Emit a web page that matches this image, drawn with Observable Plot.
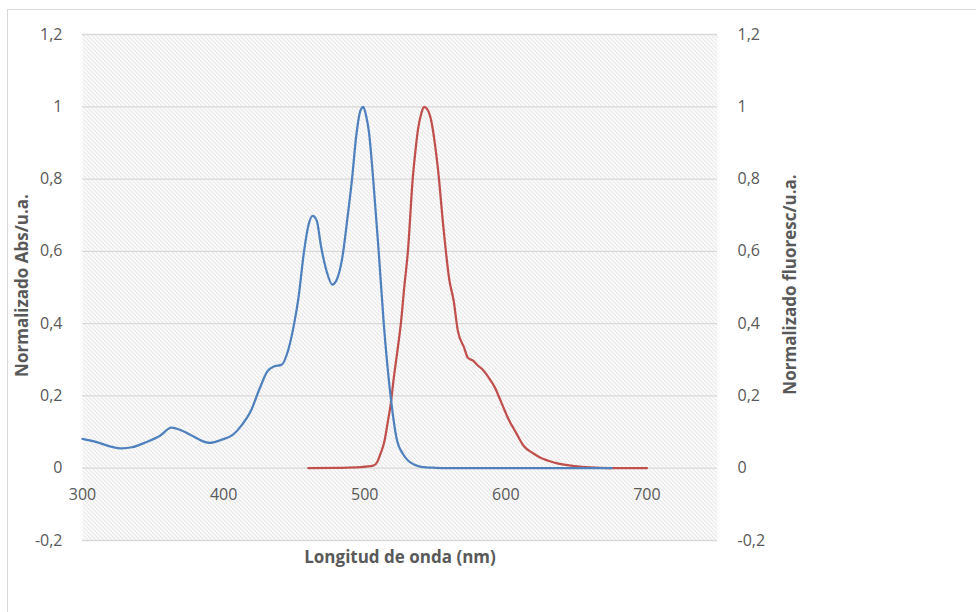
<!DOCTYPE html>
<html>
<head>
<meta charset="utf-8">
<script src="https://cdn.jsdelivr.net/npm/d3@7"></script>
<script src="https://cdn.jsdelivr.net/npm/@observablehq/plot@0.6"></script>
<style>
  html, body { margin: 0; padding: 0; background: #fff; }
  #wrap { position: relative; width: 976px; height: 612px; overflow: hidden; }
  #border { position: absolute; left: 7px; top: 9px; width: 1000px; height: 700px; border-left: 1px solid #d9d9d9; border-top: 1px solid #d9d9d9; pointer-events: none; }
</style>
</head>
<body>
<div id="wrap"><div id="border"></div></div>
<script>
// Absorbance spectrum (normalised)
const absWavelength = [300,310,320,328,335,345,355,363,371,378,385,390,398,407,413,419,425,431,436,441,446,450,453,457,460,463,466,469,473,477,480,484,488,491,494,497,499,501,503,506,510,513.5,518.5,523,527,531,535,540,550,560,600,640,675];
const absValue      = [0.081,0.072,0.060,0.055,0.058,0.072,0.090,0.112,0.103,0.089,0.075,0.070,0.078,0.094,0.120,0.156,0.215,0.268,0.282,0.286,0.330,0.400,0.470,0.600,0.670,0.698,0.685,0.615,0.545,0.508,0.520,0.580,0.700,0.800,0.920,0.990,1.000,0.975,0.930,0.800,0.594,0.400,0.194,0.075,0.040,0.020,0.010,0.004,0.001,0,0,0,0];
// Fluorescence spectrum (normalised)
const fluWavelength = [460,480,497,506,509,511,514,516,518.5,520.6,523,525.6,528,530.6,534,536,537.7,540,542,544,547,550,552,555.5,560,563,566,570.5,573,577,580,583,588,592,597,602,607,613,619,625,635,649,660,673,700];
const fluValue      = [0,0.001,0.003,0.007,0.018,0.038,0.075,0.120,0.180,0.250,0.320,0.400,0.500,0.600,0.800,0.880,0.936,0.980,1.000,0.995,0.964,0.890,0.825,0.677,0.520,0.464,0.380,0.333,0.306,0.297,0.285,0.275,0.250,0.225,0.180,0.135,0.100,0.060,0.042,0.028,0.015,0.006,0.002,0,0];

const xTicks = [300,400,500,600,700];
const yTicks = [-0.2,0,0.2,0.4,0.6,0.8,1,1.2];
const xTitle = "Longitud de onda (nm)";
const yLeftTitle = "Normalizado Abs/u.a.";
const yRightTitle = "Normalizado fluoresc/u.a.";

const absData = absWavelength.map((w,i) => ({w, v: absValue[i]}));
const fluData = fluWavelength.map((w,i) => ({w, v: fluValue[i]}));
const fmt = d => String(d).replace(".", ",");

const tickStyle = {fill: "#595959", fontSize: 16, letterSpacing: "0.8px"};
const titleStyle = {fontWeight: "bold", fontSize: 17, fill: "#595959", letterSpacing: "0.6px"};

const chart = Plot.plot({
  width: 976,
  height: 612,
  marginLeft: 82,
  marginRight: 259,
  marginTop: 34,
  marginBottom: 72,
  style: {fontFamily: "'Open Sans', sans-serif", fontSize: "16px", color: "#595959", background: "transparent", overflow: "visible"},
  x: {domain: [300, 750], axis: null},
  y: {domain: [-0.2, 1.2], axis: null},
  marks: [
    Plot.frame({fill: "url(#hatch)", stroke: null}),
    Plot.gridY(yTicks, {stroke: "#d9d9d9", strokeOpacity: 1, strokeWidth: 1.3}),
    Plot.axisY(yTicks, {anchor: "left", tickSize: 0, tickPadding: 20, tickFormat: fmt, label: null, ...tickStyle}),
    Plot.axisY(yTicks, {anchor: "right", tickSize: 0, tickPadding: 20, tickFormat: fmt, label: null, ...tickStyle}),
    Plot.text(xTicks, {x: d => d, y: () => 0, dy: 27, text: d => String(d), ...tickStyle}),
    Plot.line(fluData, {x: "w", y: "v", stroke: "#c0504d", strokeWidth: 2.25, curve: "monotone-x"}),
    Plot.line(absData, {x: "w", y: "v", stroke: "#4f81bd", strokeWidth: 2.25, curve: "monotone-x"}),
    Plot.text([xTitle], {frameAnchor: "bottom", lineAnchor: "middle", dy: 17, ...titleStyle}),
    Plot.text([yLeftTitle], {frameAnchor: "left", textAnchor: "middle", lineAnchor: "middle", dx: -60, dy: -2, rotate: -90, ...titleStyle}),
    Plot.text([yRightTitle], {frameAnchor: "right", textAnchor: "middle", lineAnchor: "middle", dx: 73, dy: -3, rotate: -90, ...titleStyle})
  ]
});

const defs = d3.select(chart).insert("defs", ":first-child");
const pat = defs.append("pattern")
  .attr("id", "hatch")
  .attr("patternUnits", "userSpaceOnUse")
  .attr("width", 4).attr("height", 4);
pat.append("rect").attr("width", 4).attr("height", 4).attr("fill", "#ffffff");
pat.append("path")
  .attr("d", "M0,0 L4,4 M-1,3 L1,5 M3,-1 L5,1")
  .attr("stroke", "#d4d4d4").attr("stroke-width", 1);

document.getElementById("wrap").prepend(chart);
</script>
</body>
</html>
